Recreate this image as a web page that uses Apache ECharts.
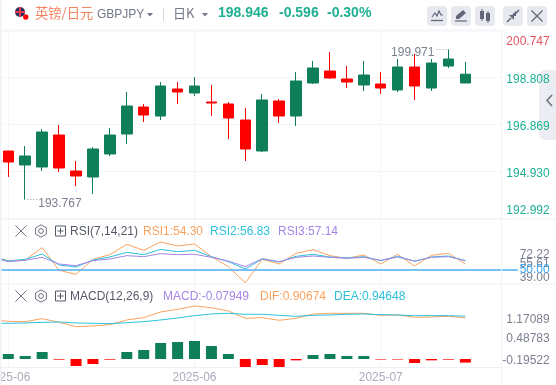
<!DOCTYPE html>
<html>
<head>
<meta charset="utf-8">
<style>html,body{margin:0;padding:0;background:#fff}#c{width:556px;height:385px}</style>
<script src="https://cdn.jsdelivr.net/npm/echarts@6/dist/echarts.min.js"></script>
</head>
<body>
<div id="c"></div>
<script>
const categories = ['2025-05','2025-06','2025-06','2025-06','2025-06','2025-06','2025-06','2025-06','2025-06','2025-06','2025-06','2025-06','2025-06','2025-06','2025-06','2025-06','2025-06','2025-06','2025-06','2025-06','2025-06','2025-06','2025-06','2025-07','2025-07','2025-07','2025-07','2025-07','2025-07','2025-07','2025-07'];
const labelledIndexes = [1,12,23];
const opens  = [195.776,195.199,195.116,196.436,194.951,194.704,195.653,196.478,197.591,197.220,198.334,198.169,197.798,197.715,197.055,195.776,197.839,197.220,198.581,199.076,198.746,198.499,198.540,198.293,199.241,198.375,199.282,198.581];
const closes = [195.322,195.570,196.560,195.075,194.745,195.859,196.436,197.633,197.261,198.458,198.210,198.458,197.756,197.138,195.859,197.880,197.220,198.664,199.200,198.788,198.622,198.911,198.375,199.241,198.458,199.406,199.571,198.946];
const lows   = [194.704,193.767,194.951,194.910,194.332,194.003,195.570,196.065,196.973,197.055,197.715,198.045,197.220,196.271,195.364,195.735,196.931,196.807,198.540,198.746,198.375,198.251,198.127,198.210,197.880,198.251,199.200,198.581];
const highs  = [195.776,195.983,196.684,196.849,195.364,195.941,196.725,198.210,197.715,198.622,198.622,198.829,198.499,197.798,197.550,198.128,197.921,199.035,199.489,199.860,199.282,199.489,199.035,199.571,199.777,199.571,199.971,199.448];
const rsi1 = [60.29,57.04,57.58,67.60,49.19,45.94,58.12,61.91,70.31,65.43,72.22,68.95,70.58,60.29,52.17,39.00,58.12,54.33,63.00,65.98,61.10,58.94,61.64,54.33,62.19,52.71,61.37,63.00,54.30];
const rsi2 = [61.10,56.77,58.12,62.46,53.52,51.90,57.58,60.02,63.81,61.91,66.25,64.35,65.43,60.29,56.23,50.27,58.39,55.96,60.56,62.19,60.02,59.21,60.29,57.04,60.56,56.50,60.02,60.83,56.83];
const rsi3 = [59.48,56.23,57.31,59.75,54.33,52.98,57.04,58.39,61.10,60.29,62.73,61.91,62.19,59.75,56.77,52.17,58.66,56.23,59.75,60.83,59.75,58.94,59.75,57.31,60.02,56.77,59.75,60.29,57.14];
const dif = [0.862,0.833,0.825,0.892,0.811,0.715,0.730,0.759,0.862,0.914,1.039,1.098,1.17089,1.135,1.061,0.899,0.914,0.855,0.899,0.995,1.010,1.010,1.010,0.965,0.973,0.921,0.929,0.943,0.90674];
const dea = [0.789,0.789,0.796,0.811,0.818,0.796,0.789,0.781,0.803,0.825,0.862,0.907,0.958,0.995,1.010,0.988,0.988,0.965,0.943,0.965,0.973,0.988,0.995,0.980,0.973,0.958,0.958,0.958,0.94648];
const macd = [0.111,0.066,0.155,-0.015,-0.155,-0.111,-0.015,0.155,0.199,0.354,0.376,0.398,0.287,0.111,-0.177,-0.133,-0.177,-0.030,0.088,0.111,0.066,0.066,-0.012,-0.012,-0.088,-0.030,-0.015,-0.07949];
const priceTicks = [192.992,194.930,196.869,198.808,200.747];
const rsiTicks = [39.00,55.61,72.22,50.00];
const macdTicks = [-0.19522,0.48783,1.17089];

const UP='#0f7f59', DOWN='#ff0000', ORANGE='#fba25f', CYAN='#2cc1dd', PURPLE='#a585e6', TEAL='#1fb093', GRID='#f3f5f8', GREY='#7c8090';
const F='"Liberation Sans",Arial,sans-serif', CJK='"Noto Sans CJK SC","Liberation Sans",sans-serif';
const candle = opens.map((o,i)=>[o,closes[i],lows[i],highs[i]]);
const candleData = [['-','-','-','-']].concat(candle);
const macdData = [null].concat(macd);

const gridX = {left:-17.1, width:524.8, outerBoundsMode:'none', containLabel:false};
const xBase = (g,show)=>({type:'category',gridIndex:g,data:categories,boundaryGap:true,
  axisLine:{show:false},axisTick:{show:false},
  axisLabel:{show:show,color:'#a9adb9',fontSize:12,fontFamily:F,margin:4,hideOverlap:false,
    interval:(i)=>labelledIndexes.includes(i)},
  splitLine:{show:true,alignWithLabel:true,interval:(i)=>labelledIndexes.includes(i),lineStyle:{color:GRID,width:1}}});

const line=(name,data,color,xi)=>({name,type:'line',xAxisIndex:xi,yAxisIndex:xi===1?2:4,data,showSymbol:false,symbol:'none',
  lineStyle:{color,width:1},itemStyle:{color},silent:true,animation:false,z:3});

const txt=(x,y,s,fill,size,extra)=>({type:'text',x,y,z:10,silent:true,style:Object.assign({text:s,fill,fontSize:size,fontFamily:F,textVerticalAlign:'middle',textAlign:'left'},extra||{})});
const seg=(x1,y1,x2,y2,c,w)=>({type:'line',z:10,silent:true,shape:{x1,y1,x2,y2},style:{stroke:c,lineWidth:w||1}});
const box=(x,y,w,h,c,r,z)=>({type:'rect',z:z==null?9:z,silent:true,shape:{x,y,width:w,height:h,r:r||0},style:{fill:c}});
const poly=(pts,stroke,fill,w)=>({type:'polygon',z:10,silent:true,shape:{points:pts},style:{stroke:stroke||null,fill:fill||'none',lineWidth:w||1}});
const pline=(pts,c,w)=>({type:'polyline',z:10,silent:true,shape:{points:pts},style:{stroke:c,fill:'none',lineWidth:w||1}});
const circ=(cx,cy,r,fill,stroke,w)=>({type:'circle',z:10,silent:true,shape:{cx,cy,r},style:{fill:fill||'none',stroke:stroke||null,lineWidth:w||1}});

function paneIcons(y){
  const c='#6d7180', cx=41, r=6.2;
  const hex=[[cx,y-r],[cx+5.4,y-r/2],[cx+5.4,y+r/2],[cx,y+r],[cx-5.4,y+r/2],[cx-5.4,y-r/2]];
  return [seg(15.5,y-5.5,26.5,y+5.5,c),seg(26.5,y-5.5,15.5,y+5.5,c),poly(hex,c,'none',1),circ(cx,y,2.4,'none',c,1),
    {type:'rect',z:10,silent:true,shape:{x:55.5,y:y-5,width:10,height:10},style:{fill:'none',stroke:'#555a68',lineWidth:1}},
    seg(57.5,y,63.5,y,'#555a68'),seg(60.5,y-3,60.5,y+3,'#555a68')];
}
const btnX=[427,451,475,503,527];
const ic='#62677a';
const graphics=[
  box(501.5,31,9,187,'#fff',0,1),
  box(0,0,1.5,385,'#eef1f6',0,9),
  box(1.5,29.5,499.5,2,'#f5f6f9',0,1),
  seg(1,219,556,219,'#eef0f5'),seg(1,284,556,284,'#eef0f5'),seg(1,367.5,501,367.5,'#eef0f5'),
  seg(501.5,31,501.5,384,'#f1f3f7'),
  circ(20,12,5,'#27315e'),seg(15,12,25,12,'#e8394a',2),seg(20,7,20,17,'#e8394a',2),circ(25.7,17,2.7,'#ff0000'),
  txt(35,13,'英镑/日元','#f5835f',13.3,{fontFamily:CJK}),
  txt(97,15,'GBPJPY','#737787',12),
  poly([[147,13],[153,13],[150,16.5]],null,'#737787'),
  seg(163.5,8,163.5,21,'#d5d8df'),
  txt(173,13,'日K','#737787',13,{fontFamily:CJK}),
  poly([[202,13],[208,13],[205,16.5]],null,'#737787'),
  txt(218,13.5,'198.946',TEAL,14,{fontWeight:'bold'}),
  txt(279,13.5,'-0.596',TEAL,14,{fontWeight:'bold'}),
  txt(327,13.5,'-0.30%',TEAL,14,{fontWeight:'bold'}),
];
btnX.forEach(x=>graphics.push(box(x,6,20,20,'#e7e9ef',4)));
graphics.push(
  pline([[432,17],[435,13],[437,16],[439,11],[441,15],[443,15]],ic,1.2),seg(431,20.5,443,20.5,ic,1.3),
  poly([[456,19],[456,16],[463,10],[466,13],[459,19]],null,ic),seg(455,21,467,21,ic,1.2),
  box(480,11,4,8,ic,0,10),seg(482,9,482,21,ic),box(486,13,4,8,ic,0,10),seg(488,11,488,23,ic),
  seg(507,22,511,18,ic,1.6),poly([[509,15],[514,15],[514,20]],null,ic),seg(519,10,515,14,ic,1.6),poly([[516,11],[516,16],[511,16]],null,ic),
  seg(531.5,10.5,542.5,21.5,ic,1.2),seg(542.5,10.5,531.5,21.5,ic,1.2),
  box(539,70,17,70,'#ebedf2',[6,0,0,6],2),
  pline([[552,95],[547,100.5],[552,106]],'#6d7180',1.6),
  ...paneIcons(231),
  txt(70,232,'RSI(7,14,21)','#555a68',12),
  txt(143,232,'RSI1:54.30',ORANGE,12),
  txt(210,232,'RSI2:56.83',CYAN,12),
  txt(278,232,'RSI3:57.14',PURPLE,12),
  ...paneIcons(296),
  txt(70,297,'MACD(12,26,9)','#555a68',12),
  txt(163,297,'MACD:-0.07949',PURPLE,12),
  txt(260,297,'DIF:0.90674',ORANGE,12),
  txt(334,297,'DEA:0.94648',CYAN,12)
);

const priceFmt=(v)=>{
  const s=v.toFixed(3);
  if(v>200) return '{r|'+s+'}';
  if(v<193) return '{b|'+s+'}';
  return '{t|'+s+'}';
};
const rsiFmt=(v)=>{
  if(Math.abs(v-72.22)<.01) return '{a|72.22}';
  if(Math.abs(v-39)<.01) return '{b|39.00}';
  if(Math.abs(v-50)<.01) return '{c|50.00}';
  return '{d|55.61}';
};
const macdFmt=(v)=>{
  if(v>1) return '{a|1.17089}';
  if(v>0) return '{b|0.48783}';
  return '{c|-0.19522}';
};
const lbl={fontSize:12,fontFamily:F,color:GREY};

const option={
  animation:false,
  backgroundColor:'#fff',
  grid:[
    Object.assign({top:30.5,height:188},gridX),
    Object.assign({top:219,height:65},gridX),
    Object.assign({top:284,height:84},gridX)
  ],
  xAxis:[xBase(0,false),xBase(1,false),xBase(2,true)],
  yAxis:[
    {type:'value',gridIndex:0,position:'right',min:192.992,max:200.747,scale:true,z:0,
      axisLine:{show:false},axisTick:{show:false,customValues:priceTicks},
      axisLabel:{show:false,customValues:priceTicks},
      splitLine:{show:true,lineStyle:{color:GRID,width:1}}},
    {type:'value',gridIndex:0,position:'right',offset:42,min:192.992,max:200.747,scale:true,z:3,
      axisLine:{show:false},axisTick:{show:false},splitLine:{show:false},
      axisLabel:{inside:true,margin:0,customValues:priceTicks,
        verticalAlignMinLabel:'bottom',verticalAlignMaxLabel:'top',
        formatter:priceFmt,
        rich:{r:{fontSize:12,fontFamily:F,color:'#e5535f',padding:[5,0,0,0]},
              t:{fontSize:12,fontFamily:F,color:TEAL,padding:[5,0,0,0]},
              b:{fontSize:12,fontFamily:F,color:TEAL,padding:[0,0,2,0]}}}},
    {type:'value',gridIndex:1,position:'right',min:38.08,max:90.88,
      axisLine:{show:false},splitLine:{show:false},
      axisTick:{show:true,customValues:[50],length:10,inside:false,lineStyle:{color:'#4aaef5',width:1.5}},
      axisLabel:{show:false}},
    {type:'value',gridIndex:1,position:'right',offset:42,min:38.08,max:90.88,z:3,
      axisLine:{show:false},axisTick:{show:false},splitLine:{show:false},
      axisLabel:{inside:true,margin:0,customValues:rsiTicks,formatter:rsiFmt,hideOverlap:false,
        rich:{a:Object.assign({padding:[26,0,0,0]},lbl),b:Object.assign({padding:[0,0,10,0]},lbl),c:Object.assign({},lbl,{color:'#3aa5f2'}),d:Object.assign({padding:[2,0,0,0]},lbl)}}},
    {type:'value',gridIndex:2,position:'right',min:-0.199,max:1.6575,
      axisLine:{show:false},axisTick:{show:false},splitLine:{show:false},axisLabel:{show:false}},
    {type:'value',gridIndex:2,position:'right',offset:42,min:-0.199,max:1.6575,z:3,
      axisLine:{show:false},axisTick:{show:false},splitLine:{show:false},
      axisLabel:{inside:true,margin:0,customValues:macdTicks,formatter:macdFmt,hideOverlap:false,
        rich:{a:Object.assign({padding:[28,0,0,0]},lbl),b:Object.assign({padding:[4,0,0,0]},lbl),c:Object.assign({padding:[0,0,15,0]},lbl)}}}
  ],
  series:[
    {type:'candlestick',xAxisIndex:0,yAxisIndex:0,data:candleData,barWidth:11,silent:true,
      itemStyle:{color:UP,color0:DOWN,borderColor:UP,borderColor0:DOWN,borderWidth:1},
      markPoint:{silent:true,symbol:'circle',symbolSize:0,animation:false,data:[
        {coord:[2,193.767],label:{show:true,position:'right',distance:1,offset:[0,0],formatter:'····',color:'#8a8e9c',fontSize:9,fontFamily:F}},
        {coord:[2,193.767],label:{show:true,position:'right',distance:13,offset:[0,4],formatter:'193.767',color:GREY,fontSize:12,fontFamily:F}},
        {coord:[27,199.971],label:{show:true,position:'left',distance:1,offset:[0,0],formatter:'····',color:'#8a8e9c',fontSize:9,fontFamily:F}},
        {coord:[27,199.971],label:{show:true,position:'left',distance:14,offset:[0,3],formatter:'199.971',color:GREY,fontSize:12,fontFamily:F}}
      ]}},
    Object.assign(line('RSI1',rsi1,ORANGE,1),{markLine:{silent:true,symbol:'none',animation:false,label:{show:false},lineStyle:{color:'#4aaef5',width:1.5,type:'solid'},data:[{yAxis:50}]}}),
    line('RSI2',rsi2,CYAN,1),
    line('RSI3',rsi3,PURPLE,1),
    line('DIF',dif,ORANGE,2),
    line('DEA',dea,CYAN,2),
    {name:'MACD',type:'bar',xAxisIndex:2,yAxisIndex:4,data:macdData,barWidth:11,silent:true,
      itemStyle:{color:(p)=>p.value>=0?UP:DOWN}}
  ],
  graphic:{elements:graphics}
};
const chart=echarts.init(document.getElementById('c'),null,{renderer:'canvas'});
chart.setOption(option);
</script>
</body>
</html>
